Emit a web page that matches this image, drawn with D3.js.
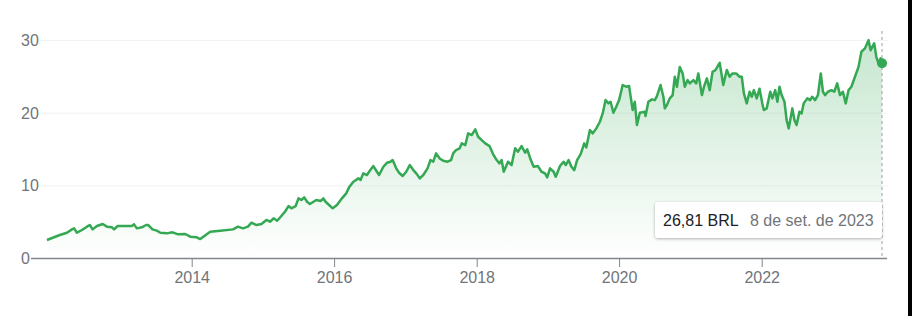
<!DOCTYPE html>
<html>
<head>
<meta charset="utf-8">
<script src="https://cdn.jsdelivr.net/npm/d3@7"></script>
<style>
  body { margin: 0; background: #fff; font-family: Arial, "Liberation Sans", sans-serif; }
  svg text { font-family: Arial, "Liberation Sans", sans-serif; }
</style>
</head>
<body>
<script>
var width = 912,
    height = 316;

// price history, time as decimal year
var years = [
  2011.97, 2012.15, 2012.25, 2012.32, 2012.35, 2012.39, 2012.46, 2012.53, 2012.57, 2012.61,
  2012.67, 2012.75, 2012.81, 2012.88, 2012.91, 2012.96, 2013.06, 2013.16, 2013.19, 2013.23,
  2013.30, 2013.36, 2013.39, 2013.45, 2013.51, 2013.56, 2013.65, 2013.73, 2013.81, 2013.91,
  2013.98, 2014.07, 2014.12, 2014.26, 2014.40, 2014.58, 2014.65, 2014.72, 2014.79, 2014.84,
  2014.91, 2014.98, 2015.05, 2015.10, 2015.15, 2015.20, 2015.25, 2015.31, 2015.36, 2015.40,
  2015.46, 2015.50, 2015.54, 2015.58, 2015.62, 2015.66, 2015.71, 2015.75, 2015.81, 2015.85,
  2015.88, 2015.93, 2015.98, 2016.04, 2016.11, 2016.17, 2016.21, 2016.27, 2016.34, 2016.37,
  2016.41, 2016.46, 2016.50, 2016.55, 2016.60, 2016.63, 2016.69, 2016.74, 2016.79, 2016.82,
  2016.87, 2016.91, 2016.96, 2017.01, 2017.06, 2017.11, 2017.16, 2017.20, 2017.25, 2017.31,
  2017.35, 2017.39, 2017.43, 2017.48, 2017.53, 2017.59, 2017.64, 2017.67, 2017.71, 2017.76,
  2017.79, 2017.84, 2017.88, 2017.93, 2017.98, 2018.02, 2018.07, 2018.12, 2018.18, 2018.23,
  2018.28, 2018.32, 2018.35, 2018.38, 2018.44, 2018.49, 2018.54, 2018.58, 2018.63, 2018.68,
  2018.71, 2018.76, 2018.80, 2018.86, 2018.91, 2018.96, 2018.99, 2019.03, 2019.08, 2019.11,
  2019.17, 2019.22, 2019.25, 2019.29, 2019.33, 2019.37, 2019.41, 2019.46, 2019.51, 2019.54,
  2019.59, 2019.63, 2019.68, 2019.73, 2019.77, 2019.81, 2019.85, 2019.88, 2019.92, 2019.96,
  2020.00, 2020.05, 2020.10, 2020.14, 2020.19, 2020.22, 2020.25, 2020.29, 2020.36, 2020.37,
  2020.41, 2020.46, 2020.50, 2020.53, 2020.58, 2020.62, 2020.64, 2020.67, 2020.71, 2020.75,
  2020.78, 2020.81, 2020.85, 2020.89, 2020.92, 2020.96, 2020.99, 2021.04, 2021.08, 2021.11,
  2021.16, 2021.19, 2021.23, 2021.27, 2021.31, 2021.35, 2021.41, 2021.46, 2021.51, 2021.55,
  2021.59, 2021.64, 2021.69, 2021.72, 2021.75, 2021.79, 2021.83, 2021.86, 2021.89, 2021.93,
  2021.97, 2022.01, 2022.03, 2022.07, 2022.12, 2022.15, 2022.19, 2022.22, 2022.25, 2022.28,
  2022.32, 2022.35, 2022.38, 2022.43, 2022.46, 2022.49, 2022.53, 2022.56, 2022.59, 2022.64,
  2022.68, 2022.71, 2022.75, 2022.79, 2022.83, 2022.86, 2022.89, 2022.93, 2022.98, 2023.02,
  2023.06, 2023.10, 2023.14, 2023.18, 2023.22, 2023.26, 2023.31, 2023.36, 2023.40, 2023.45,
  2023.50, 2023.53, 2023.58, 2023.61, 2023.64, 2023.67, 2023.69
];

var prices = [
  2.48, 3.16, 3.48, 3.94, 4.08, 3.48, 3.85, 4.31, 4.54, 3.94,
  4.40, 4.68, 4.31, 4.22, 3.94, 4.40, 4.40, 4.40, 4.63, 4.08,
  4.22, 4.54, 4.54, 3.94, 3.76, 3.48, 3.39, 3.53, 3.26, 3.30,
  2.93, 2.85, 2.60, 3.60, 3.75, 3.94, 4.31, 4.08, 4.31, 4.86,
  4.54, 4.68, 5.23, 4.99, 5.46, 5.13, 5.68, 6.37, 7.15, 6.84,
  7.15, 8.21, 7.98, 8.35, 7.74, 7.43, 7.74, 7.98, 7.84, 8.21,
  7.74, 7.29, 6.84, 7.29, 8.21, 8.90, 9.72, 10.50, 10.96, 10.73,
  11.65, 11.42, 12.00, 12.65, 11.87, 11.42, 12.56, 13.10, 13.25, 13.48,
  12.34, 11.73, 11.28, 11.87, 12.79, 12.10, 11.55, 10.96, 11.42, 12.34,
  13.48, 13.25, 14.40, 13.70, 13.38, 13.25, 13.48, 14.40, 14.86, 15.09,
  15.77, 15.54, 17.15, 16.92, 17.70, 16.69, 16.23, 15.77, 15.40, 14.30,
  13.48, 13.02, 13.48, 11.87, 13.25, 12.79, 15.09, 14.63, 15.40, 14.49,
  14.95, 13.48, 12.56, 12.65, 11.87, 11.65, 11.10, 12.34, 11.87, 11.18,
  12.65, 13.25, 12.79, 13.48, 12.56, 12.10, 13.48, 14.30, 15.77, 15.23,
  17.60, 17.15, 17.84, 18.75, 19.90, 21.73, 21.28, 21.50, 19.99, 20.81,
  21.73, 23.80, 23.57, 23.66, 20.36, 21.50, 18.29, 20.00, 20.13, 19.53,
  21.50, 21.83, 21.73, 22.28, 23.80, 22.19, 20.59, 21.05, 21.97, 22.42,
  24.94, 23.57, 26.30, 25.40, 23.57, 24.48, 24.03, 24.48, 24.03, 25.40,
  22.42, 23.57, 24.72, 23.10, 25.63, 25.86, 26.86, 23.80, 25.86, 24.94,
  25.40, 25.40, 24.94, 24.94, 22.65, 21.28, 22.88, 22.19, 23.10, 21.97,
  23.30, 21.20, 20.36, 20.59, 22.88, 21.97, 23.10, 21.50, 23.57, 22.42,
  21.50, 18.98, 17.84, 20.59, 18.98, 18.29, 20.13, 19.90, 21.28, 21.97,
  21.73, 22.19, 21.73, 22.42, 25.40, 22.88, 22.42, 22.88, 23.10, 22.88,
  24.03, 22.42, 22.88, 21.28, 23.10, 23.57, 24.94, 26.30, 28.38, 28.84,
  29.98, 28.60, 29.53, 27.69, 26.78, 27.47, 26.81
];

var yTicks = [0, 10, 20, 30];
var xTickYears = [2014, 2016, 2018, 2020, 2022];
var currency = "BRL";
var lastDateLabel = "8 de set. de 2023";

function yearToDate(y) {
  var yr = Math.floor(y);
  var a = new Date(yr, 0, 1), b = new Date(yr + 1, 0, 1);
  return new Date(+a + (y - yr) * (b - a));
}

var data = years.map(function(y, i) {
  return { date: yearToDate(y), value: prices[i] };
});

var svg = d3.select("body")
  .append("svg")
  .attr("width", width)
  .attr("height", height);

var x = d3.scaleTime()
  .domain([new Date(2014, 0, 1), new Date(2022, 0, 1)])
  .range([191.7, 761.7]);

var y = d3.scaleLinear()
  .domain([0, 30])
  .range([258, 40]);

var green = "#34a853";

var defs = svg.append("defs");
var grad = defs.append("linearGradient")
  .attr("id", "areaGrad")
  .attr("gradientUnits", "userSpaceOnUse")
  .attr("x1", 0).attr("x2", 0)
  .attr("y1", y(30)).attr("y2", y(0));
grad.append("stop").attr("offset", "0%").attr("stop-color", green).attr("stop-opacity", 0.28);
grad.append("stop").attr("offset", "100%").attr("stop-color", green).attr("stop-opacity", 0);

var shadow = defs.append("filter").attr("id", "shadow")
  .attr("x", "-10%").attr("y", "-30%").attr("width", "120%").attr("height", "170%");
shadow.append("feDropShadow")
  .attr("dx", 0).attr("dy", 1).attr("stdDeviation", 1.5)
  .attr("flood-color", "#000").attr("flood-opacity", 0.3);

// gridlines
svg.append("g")
  .selectAll("line")
  .data(yTicks.filter(function(d) { return d > 0; }))
  .enter().append("line")
    .attr("x1", 40).attr("x2", 888)
    .attr("y1", function(d) { return y(d) + 0.5; })
    .attr("y2", function(d) { return y(d) + 0.5; })
    .attr("stroke", "#f1f3f4")
    .attr("stroke-width", 1);

// y labels
var yAxis = svg.append("g")
  .attr("transform", "translate(21,0)")
  .call(d3.axisRight(y).tickValues(yTicks).tickSize(0).tickPadding(0));
yAxis.select(".domain").remove();
yAxis.selectAll("text")
  .attr("fill", "#70757a")
  .attr("font-size", 16)
  .attr("dy", "0.35em");

// area + line
var area = d3.area()
  .x(function(d) { return x(d.date); })
  .y0(y(0))
  .y1(function(d) { return y(d.value); });

var line = d3.line()
  .x(function(d) { return x(d.date); })
  .y(function(d) { return y(d.value); });

svg.append("path")
  .datum(data)
  .attr("d", area)
  .attr("fill", "url(#areaGrad)");

svg.append("path")
  .datum(data)
  .attr("d", line)
  .attr("fill", "none")
  .attr("stroke", green)
  .attr("stroke-width", 2.5)
  .attr("stroke-linejoin", "round");

// x axis
var xAxis = svg.append("g")
  .attr("transform", "translate(0," + y(0) + ")")
  .call(d3.axisBottom(x)
    .tickValues(xTickYears.map(function(yr) { return new Date(yr, 0, 1); }))
    .tickFormat(d3.timeFormat("%Y"))
    .tickSize(9)
    .tickPadding(5));
xAxis.select(".domain").remove();
xAxis.selectAll(".tick line").attr("stroke", "#80868b");
xAxis.selectAll("text")
  .attr("fill", "#70757a")
  .attr("font-size", 16);

svg.append("line")
  .attr("x1", 31).attr("x2", 887)
  .attr("y1", y(0) + 0.5).attr("y2", y(0) + 0.5)
  .attr("stroke", "#80868b")
  .attr("stroke-width", 1.5);

// hover marker on last point
var last = data[data.length - 1];

svg.append("line")
  .attr("x1", x(last.date)).attr("x2", x(last.date))
  .attr("y1", 31).attr("y2", y(0))
  .attr("stroke", "#9aa0a6")
  .attr("stroke-width", 1)
  .attr("stroke-dasharray", "3,3");

svg.append("circle")
  .attr("cx", x(last.date))
  .attr("cy", y(last.value))
  .attr("r", 5)
  .attr("fill", green);

// tooltip
var tip = svg.append("g").attr("transform", "translate(655,202)");
tip.append("rect")
  .attr("width", 227).attr("height", 36)
  .attr("rx", 3)
  .attr("fill", "#fff")
  .attr("filter", "url(#shadow)");
tip.append("text")
  .attr("x", 8).attr("y", 24)
  .attr("font-size", 16)
  .attr("fill", "#202124")
  .text(d3.format(".2f")(last.value).replace(".", ",") + " " + currency);
tip.append("text")
  .attr("x", 95).attr("y", 24)
  .attr("font-size", 16)
  .attr("fill", "#70757a")
  .text(lastDateLabel);

// dark strip at right edge
svg.append("rect")
  .attr("x", 908).attr("y", 0)
  .attr("width", 4).attr("height", height)
  .attr("fill", "#000");
</script>
</body>
</html>
